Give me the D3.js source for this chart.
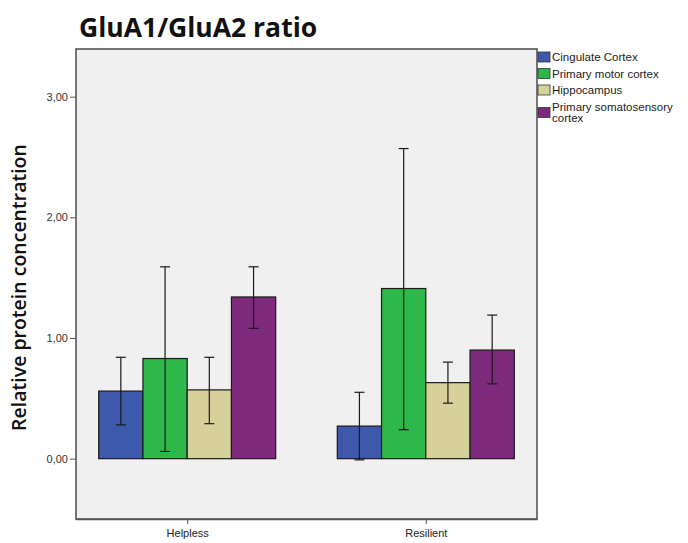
<!DOCTYPE html>
<html>
<head>
<meta charset="utf-8">
<script src="https://cdn.jsdelivr.net/npm/d3@7"></script>
<style>
  html, body { margin: 0; padding: 0; background: #ffffff; }
  svg { display: block; }
</style>
</head>
<body>
<svg id="chart" width="688" height="543"></svg>
<script>
// Groups on the x axis and the brain regions drawn within each group
const groups = ["Helpless", "Resilient"];
const regions = ["Cingulate Cortex", "Primary motor cortex", "Hippocampus", "Primary somatosensory cortex"];
const regionLegendLines = [["Cingulate Cortex"], ["Primary motor cortex"], ["Hippocampus"], ["Primary somatosensory", "cortex"]];
const regionColors = ["#3e58ac", "#2fb84a", "#d6d09a", "#7d2a7d"];

// Mean GluA1/GluA2 ratio per region (order matches `regions`)
const helplessMean = [0.56, 0.83, 0.57, 1.34];
const resilientMean = [0.27, 1.41, 0.63, 0.90];
// Error bar limits
const helplessLow = [0.28, 0.06, 0.29, 1.08];
const helplessHigh = [0.84, 1.59, 0.84, 1.59];
const resilientLow = [-0.01, 0.24, 0.46, 0.62];
const resilientHigh = [0.55, 2.57, 0.80, 1.19];

const yTicks = [0, 1, 2, 3];

const rows = [];
groups.forEach((g, gi) => {
  const mean = gi === 0 ? helplessMean : resilientMean;
  const lo = gi === 0 ? helplessLow : resilientLow;
  const hi = gi === 0 ? helplessHigh : resilientHigh;
  regions.forEach((r, ri) => rows.push({ group: g, region: r, idx: ri, value: mean[ri], lo: lo[ri], hi: hi[ri] }));
});

const svg = d3.select("#chart");
const frame = { left: 76, right: 537, top: 49, bottom: 519 };

const y = d3.scaleLinear().domain([-0.5, 3.395]).range([frame.bottom, frame.top]);
const x = d3.scalePoint().domain(groups).range([frame.left, frame.right]).padding(0.466);
const groupWidth = 177;
const xi = d3.scaleBand().domain(d3.range(regions.length)).range([-groupWidth / 2, groupWidth / 2]).padding(0);

// Plot area
svg.append("rect")
  .attr("x", frame.left).attr("y", frame.top)
  .attr("width", frame.right - frame.left).attr("height", frame.bottom - frame.top)
  .attr("fill", "#f0f0f0").attr("stroke", "#555555").attr("stroke-width", 1.6);

// Bars
const barG = svg.append("g");
barG.selectAll("rect.bar").data(rows).join("rect")
  .attr("class", "bar")
  .attr("x", d => x(d.group) + xi(d.idx))
  .attr("width", xi.bandwidth())
  .attr("y", d => y(Math.max(0, d.value)))
  .attr("height", d => Math.abs(y(d.value) - y(0)))
  .attr("fill", d => regionColors[d.idx])
  .attr("stroke", "#1a1a1a").attr("stroke-width", 1.2);

// Error bars
const errG = svg.append("g").attr("stroke", "#1a1a1a").attr("stroke-width", 1.2);
rows.forEach(d => {
  const cx = x(d.group) + xi(d.idx) + xi.bandwidth() / 2;
  errG.append("line").attr("x1", cx).attr("x2", cx).attr("y1", y(d.lo)).attr("y2", y(d.hi));
  errG.append("line").attr("x1", cx - 5).attr("x2", cx + 5).attr("y1", y(d.lo)).attr("y2", y(d.lo));
  errG.append("line").attr("x1", cx - 5).attr("x2", cx + 5).attr("y1", y(d.hi)).attr("y2", y(d.hi));
});

// Y axis
const fmt = v => d3.format(".2f")(v).replace(".", ",");
const yAxis = svg.append("g")
  .attr("transform", `translate(${frame.left},0)`)
  .call(d3.axisLeft(y).tickValues(yTicks).tickFormat(fmt).tickSize(6).tickPadding(2));
yAxis.select(".domain").remove();
yAxis.selectAll(".tick line").attr("stroke", "#555555");
yAxis.selectAll(".tick text").attr("fill", "#333333")
  .style("font-family", "'Liberation Sans', Arial, sans-serif").style("font-size", "11px");

// X axis
const xAxis = svg.append("g")
  .attr("transform", `translate(0,${frame.bottom})`)
  .call(d3.axisBottom(x).tickSize(5).tickSizeOuter(0).tickPadding(5));
xAxis.select(".domain").attr("stroke", "#555555").attr("stroke-width", 1.6);
xAxis.selectAll(".tick line").attr("stroke", "#555555");
xAxis.selectAll(".tick text").attr("fill", "#222222")
  .style("font-family", "'Liberation Sans', Arial, sans-serif").style("font-size", "11px");

// Title
svg.append("text")
  .attr("x", 79).attr("y", 37)
  .style("font-family", "'Open Sans', 'Noto Sans', sans-serif")
  .style("font-size", "26.5px").style("font-weight", "bold")
  .attr("fill", "#111111")
  .text("GluA1/GluA2 ratio");

// Y axis title
svg.append("text")
  .attr("transform", `translate(26,${(145 + 430) / 2}) rotate(-90)`)
  .attr("text-anchor", "middle")
  .style("font-family", "'Open Sans', 'Noto Sans', sans-serif")
  .style("font-size", "19.5px").style("font-weight", "600")
  .attr("fill", "#111111")
  .text("Relative protein concentration");

// Legend
const legend = svg.append("g").attr("transform", "translate(538,52)");
const rowY = [0, 16.5, 33, 49.5];
regions.forEach((r, i) => {
  const g = legend.append("g").attr("transform", `translate(0,${rowY[i]})`);
  const nLines = regionLegendLines[i].length;
  g.append("rect").attr("x", 0).attr("y", nLines > 1 ? 6 : 0).attr("width", 12).attr("height", 10)
    .attr("fill", regionColors[i]).attr("stroke", "#333333").attr("stroke-width", 0.8);
  regionLegendLines[i].forEach((line, li) => {
    g.append("text").attr("x", 14).attr("y", 9 + li * 11)
      .style("font-family", "'Liberation Sans', Arial, sans-serif").style("font-size", "11.5px")
      .attr("fill", "#222222").text(line);
  });
});
</script>
</body>
</html>
